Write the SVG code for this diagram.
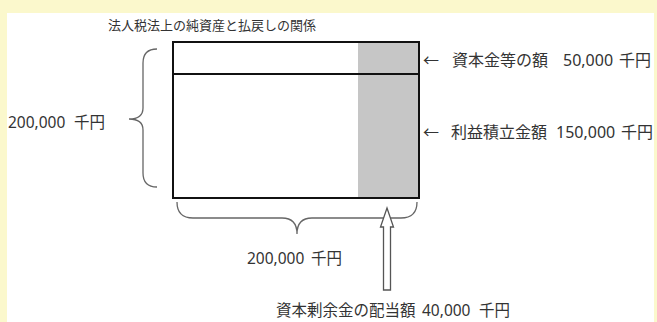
<svg xmlns="http://www.w3.org/2000/svg" width="657" height="322" viewBox="0 0 657 322">
<style>
text{font-family:"Noto Sans","Noto Sans CJK JP",sans-serif;font-size:16px;fill:#333}
.title{font-size:13px}
.sm{font-size:15.5px}
.brace{fill:none;stroke:#666;stroke-width:1.3}
.box{fill:none;stroke:#111;stroke-width:2}
</style>
<rect x="0" y="0" width="657" height="322" fill="#fbf8cc"/>
<rect x="7" y="13" width="647" height="309" fill="#fff"/>
<text id="title" class="title" x="108" y="30">法人税法上の純資産と払戻しの関係</text>
<g id="netassets">
<rect x="173" y="42" width="246" height="156" fill="#fff"/>
<rect x="358" y="42" width="61" height="156" fill="#c6c6c6"/>
<rect class="box" x="173" y="42" width="246" height="156"/>
<line class="box" x1="173" y1="74" x2="419" y2="74"/>
</g>
<g id="labels">
<text y="65.5"><tspan x="423">←</tspan><tspan x="452">資本金等の額</tspan><tspan x="563">50,000</tspan><tspan x="619">千円</tspan></text>
<text y="138"><tspan x="423">←</tspan><tspan x="451">利益積立金額</tspan><tspan x="556">150,000</tspan><tspan x="621">千円</tspan></text>
<text class="sm" y="127.5"><tspan x="8">200,000</tspan><tspan x="74">千円</tspan></text>
<text class="sm" y="263.5"><tspan x="247">200,000</tspan><tspan x="311">千円</tspan></text>
<text class="sm" y="315.5"><tspan x="276">資本剰余金の配当額</tspan><tspan x="422">40,000</tspan><tspan x="479">千円</tspan></text>
</g>
<g id="connectors">
<path class="brace" d="M157,49 Q143,49 143,63 L143,108 Q143,119 129,119 Q143,119 143,130 L143,173 Q143,187 157,187"/>
<path class="brace" d="M177,202 Q177,218 193,218 L282,218 Q297,218 297,234 Q297,218 312,218 L401,218 Q417,218 417,202"/>
<path d="M387,208 L393.5,227 L390.5,227 L390.5,290 L383.5,290 L383.5,227 L380.5,227 Z" fill="#fff" stroke="#555" stroke-width="1.3"/>
</g>
</svg>
